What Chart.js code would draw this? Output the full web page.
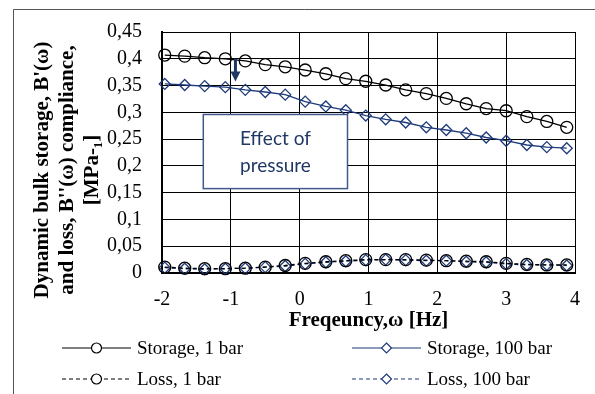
<!DOCTYPE html>
<html lang="en">
<head>
<meta charset="UTF-8">
<title>Dynamic bulk compliance vs frequency</title>
<script src="https://cdn.jsdelivr.net/npm/chart.js@4.4.1/dist/chart.umd.min.js"></script>
<style>
    html, body { margin: 0; padding: 0; background: #fff; }
    #wrap { width: 595px; height: 394px; position: relative; }
</style>
</head>
<body>
<div id="wrap"><canvas id="chart"></canvas></div>
<script>
// --- data ---
const freq = [-1.96, -1.67, -1.38, -1.08, -0.79, -0.50, -0.21, 0.08, 0.38, 0.67, 0.96,
              1.25, 1.54, 1.84, 2.13, 2.42, 2.71, 3.00, 3.30, 3.59, 3.88];
const storage1 = [0.407, 0.405, 0.402, 0.400, 0.396, 0.389, 0.385, 0.379, 0.372, 0.363, 0.358,
                  0.351, 0.342, 0.335, 0.326, 0.316, 0.307, 0.303, 0.292, 0.283, 0.272];
const storage100 = [0.353, 0.351, 0.349, 0.347, 0.342, 0.338, 0.333, 0.320, 0.311, 0.304, 0.294,
                    0.287, 0.281, 0.272, 0.267, 0.261, 0.253, 0.247, 0.239, 0.235, 0.233];
const loss1 = [0.011, 0.009, 0.008, 0.008, 0.009, 0.011, 0.014, 0.018, 0.021, 0.023, 0.025,
               0.025, 0.025, 0.024, 0.023, 0.022, 0.021, 0.018, 0.016, 0.015, 0.015];
const loss100 = [0.010, 0.008, 0.007, 0.008, 0.009, 0.011, 0.013, 0.017, 0.020, 0.022, 0.024,
                 0.025, 0.024, 0.023, 0.023, 0.021, 0.020, 0.017, 0.015, 0.015, 0.014];
const seriesNames = ['Storage, 1 bar', 'Storage, 100 bar', 'Loss, 1 bar', 'Loss, 100 bar'];
const yTitleLines = ["Dynamic bulk storage, B'(\u03c9)", "and loss, B''(\u03c9) compliance,", "[MPa-\u2081]"];
const xTitle = 'Freqeuncy,\u03c9 [Hz]';
const noteLines = ['Effect of', 'pressure'];

const NAVY = '#1f3a7a';
const SERIF = '"Liberation Serif", "Times New Roman", serif';

function pts(ys) { return freq.map((x, i) => ({ x: x, y: ys[i] })); }

function makeSet(label, ys, color, style, dashed) {
    return {
        label: label,
        data: pts(ys),
        borderColor: color,
        borderWidth: 1.3,
        borderDash: dashed ? [4, 3] : [],
        pointStyle: style,
        pointRadius: style === 'circle' ? 6 : 5.5,
        pointBorderColor: color,
        pointBorderWidth: 1.3,
        pointBackgroundColor: 'rgba(0,0,0,0)',
        fill: false,
        tension: 0
    };
}

// outer frame (only top and left edges fall inside the picture)
const framePlugin = {
    id: 'frame',
    beforeDraw(chart) {
        const ctx = chart.ctx;
        ctx.save();
        ctx.fillStyle = '#fff';
        ctx.fillRect(0, 0, chart.width, chart.height);
        ctx.strokeStyle = '#555';
        ctx.lineWidth = 1;
        ctx.beginPath();
        ctx.moveTo(13.5, chart.height);
        ctx.lineTo(13.5, 9.5);
        ctx.lineTo(chart.width, 9.5);
        ctx.stroke();
        ctx.restore();
    }
};

// rotated three-line y title
const yTitlePlugin = {
    id: 'yTitle',
    afterDraw(chart) {
        const ctx = chart.ctx;
        const ca = chart.chartArea;
        ctx.save();
        ctx.translate(43, ca.bottom - 103);
        ctx.rotate(-Math.PI / 2);
        ctx.font = 'bold 21px ' + SERIF;
        ctx.fillStyle = '#000';
        ctx.textAlign = 'center';
        ctx.textBaseline = 'middle';
        yTitleLines.forEach((t, i) => ctx.fillText(t, 0, i * 25));
        ctx.restore();
    }
};

// text box and arrow placed in data units
const notePlugin = {
    id: 'note',
    afterDatasetsDraw(chart) {
        const ctx = chart.ctx;
        const xs = chart.scales.x, ys = chart.scales.y;
        const x0 = xs.getPixelForValue(-1.40), x1 = xs.getPixelForValue(0.695);
        const y0 = ys.getPixelForValue(0.296), y1 = ys.getPixelForValue(0.1576);
        ctx.save();
        ctx.fillStyle = '#fff';
        ctx.fillRect(x0, y0, x1 - x0, y1 - y0);
        ctx.strokeStyle = '#41598b';
        ctx.lineWidth = 1.5;
        ctx.strokeRect(x0, y0, x1 - x0, y1 - y0);
        ctx.fillStyle = '#1f3864';
        ctx.font = '19px Lato, "Open Sans", sans-serif';
        ctx.textAlign = 'center';
        ctx.textBaseline = 'middle';
        const cx = (x0 + x1) / 2;
        ctx.fillText(noteLines[0], cx, y0 + 24);
        ctx.fillText(noteLines[1], cx, y0 + 51);

        // arrow
        const ax = xs.getPixelForValue(-0.933);
        const aTop = ys.getPixelForValue(0.4003), aTip = ys.getPixelForValue(0.3575);
        ctx.fillStyle = '#1f3864';
        ctx.fillRect(ax - 1.5, aTop, 3, aTip - aTop - 9);
        ctx.beginPath();
        ctx.moveTo(ax - 5, aTip - 10);
        ctx.lineTo(ax + 5, aTip - 10);
        ctx.lineTo(ax, aTip);
        ctx.closePath();
        ctx.fill();
        ctx.restore();
    }
};

// two-column legend like the original
const legendPlugin = {
    id: 'gridLegend',
    afterDraw(chart) {
        const ctx = chart.ctx;
        const cols = [62, 352], rows = [348, 379];
        chart.data.datasets.forEach((ds, i) => {
            const x = cols[i % 2], y = rows[Math.floor(i / 2)];
            ctx.save();
            ctx.strokeStyle = ds.borderColor;
            ctx.lineWidth = 1.2;
            ctx.setLineDash(ds.borderDash);
            ctx.beginPath();
            ctx.moveTo(x, y);
            ctx.lineTo(x + 69, y);
            ctx.stroke();
            ctx.setLineDash([]);
            const mx = x + 34.5;
            ctx.fillStyle = '#fff';
            ctx.beginPath();
            if (ds.pointStyle === 'circle') {
                ctx.arc(mx, y, 5, 0, Math.PI * 2);
            } else {
                ctx.moveTo(mx, y - 5);
                ctx.lineTo(mx + 5, y);
                ctx.lineTo(mx, y + 5);
                ctx.lineTo(mx - 5, y);
                ctx.closePath();
            }
            ctx.fill();
            ctx.stroke();
            ctx.fillStyle = '#000';
            ctx.font = '19px ' + SERIF;
            ctx.textAlign = 'left';
            ctx.textBaseline = 'middle';
            ctx.fillText(ds.label, x + 75, y + 1);
            ctx.restore();
        });
    }
};

function fmtComma(v) {
    const r = Math.round(v * 100) / 100;
    return String(r).replace('.', ',');
}

new Chart(document.getElementById('chart'), {
    type: 'line',
    data: {
        datasets: [
            makeSet(seriesNames[0], storage1, '#000', 'circle', false),
            makeSet(seriesNames[1], storage100, NAVY, 'rectRot', false),
            makeSet(seriesNames[2], loss1, '#000', 'circle', true),
            makeSet(seriesNames[3], loss100, NAVY, 'rectRot', true)
        ]
    },
    options: {
        responsive: true,
        maintainAspectRatio: false,
        animation: false,
        clip: false,
        layout: { padding: { left: 0, right: 9, top: 28, bottom: 0 } },
        plugins: { legend: { display: false }, tooltip: { enabled: false } },
        scales: {
            x: {
                type: 'linear',
                min: -2, max: 4,
                grid: { color: '#000', lineWidth: 1, drawTicks: false },
                border: { color: '#000', width: 2 },
                ticks: {
                    stepSize: 1, padding: 15, color: '#000', autoSkip: false,
                    font: { family: SERIF, size: 20 },
                    maxRotation: 0
                },
                title: {
                    display: true, text: xTitle, color: '#000',
                    font: { family: SERIF, size: 21, weight: 'bold' },
                    padding: { top: 0, bottom: 61 }
                },
                afterFit(scale) { scale.height = 121; }
            },
            y: {
                min: 0, max: 0.45,
                grid: { color: '#000', lineWidth: 1, drawTicks: false },
                border: { color: '#000', width: 2 },
                ticks: {
                    stepSize: 0.05, padding: 20, color: '#000', autoSkip: false,
                    font: { family: SERIF, size: 20 },
                    callback: v => fmtComma(v)
                },
                afterFit(scale) { scale.width = 162; }
            }
        }
    },
    plugins: [framePlugin, notePlugin, yTitlePlugin, legendPlugin]
});
</script>
</body>
</html>
